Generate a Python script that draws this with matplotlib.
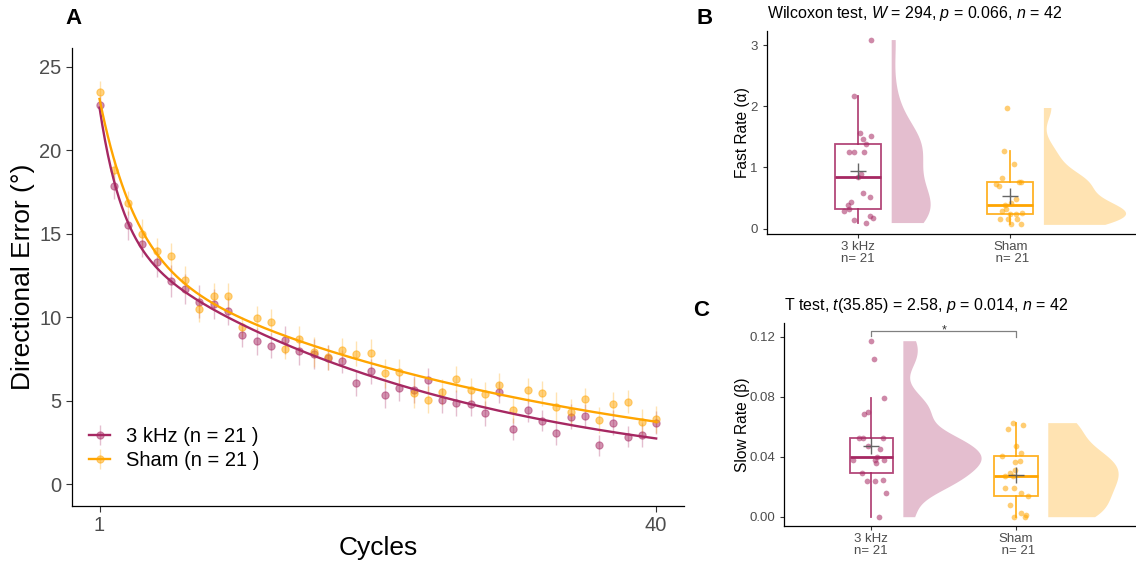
import numpy as np
import matplotlib
matplotlib.use("Agg")
import matplotlib.pyplot as plt
from matplotlib.legend_handler import HandlerTuple

plt.rcParams['font.family'] = ['Liberation Sans', 'DejaVu Sans']
plt.rcParams['mathtext.fontset'] = 'custom'
plt.rcParams['mathtext.rm'] = 'Liberation Sans'
plt.rcParams['mathtext.it'] = 'Liberation Sans:italic'

# ---------------- data ----------------
cycles = np.arange(1, 41)

err_khz = [22.7, 17.86, 15.5, 14.4, 13.3, 12.16, 11.72, 10.94, 10.78, 10.36,
           8.94, 8.56, 8.3, 8.64, 8.0, 7.8, 7.58, 7.36, 6.06, 6.76,
           5.34, 5.76, 5.66, 6.26, 5.02, 4.88, 4.82, 4.26, 5.5, 3.3,
           4.44, 3.82, 3.08, 4.04, 4.1, 2.34, 3.7, 2.86, 2.96, 3.7]
err_sham = [23.5, 18.8, 16.84, 15.0, 13.94, 13.64, 12.22, 10.5, 11.28, 11.28,
            9.4, 9.94, 9.74, 8.1, 8.68, 7.9, 7.6, 8.02, 7.82, 7.84,
            6.64, 6.74, 5.46, 5.06, 5.5, 6.3, 5.64, 5.38, 5.94, 4.44,
            5.62, 5.44, 4.6, 4.3, 5.08, 3.84, 4.82, 4.94, 3.74, 3.9]
se_khz = [0.55, 0.8, 0.87, 0.78, 0.9, 0.95, 0.9, 1.0, 0.9, 0.85,
          0.7, 0.8, 0.73, 0.85, 0.85, 0.9, 0.75, 0.7, 0.75, 0.77,
          0.78, 0.78, 0.8, 0.72, 0.74, 0.77, 0.74, 0.75, 0.62, 0.65,
          0.7, 0.6, 0.73, 0.75, 0.7, 0.62, 0.75, 0.62, 0.7, 0.7]
se_sham = [0.62, 0.65, 0.72, 0.9, 0.82, 0.83, 0.83, 0.8, 0.78, 0.78,
           0.6, 0.72, 0.75, 0.62, 0.77, 0.9, 0.75, 0.72, 0.75, 0.85,
           0.87, 0.75, 0.9, 0.8, 0.78, 0.77, 0.7, 0.75, 0.72, 0.75,
           0.76, 0.73, 0.9, 0.82, 0.68, 0.79, 0.72, 0.7, 0.75, 0.8]

groups = ["3 kHz", "Sham"]
n_per_group = [21, 21]

fast_khz = [3.09, 2.16, 1.57, 1.51, 1.46, 1.38, 1.26, 1.26, 1.26, 0.89, 0.85,
            0.59, 0.51, 0.43, 0.38, 0.32, 0.29, 0.21, 0.17, 0.14, 0.10]
fast_sham = [1.98, 1.27, 1.06, 0.82, 0.77, 0.76, 0.73, 0.69, 0.48, 0.42, 0.385,
             0.32, 0.29, 0.26, 0.235, 0.235, 0.16, 0.16, 0.15, 0.07, 0.07]
slow_khz = [0.1173, 0.1049, 0.0793, 0.0698, 0.0685, 0.0525, 0.0525, 0.0525, 0.047,
            0.045, 0.0396, 0.0376, 0.0376, 0.0376, 0.036, 0.0289, 0.0236, 0.0236,
            0.0243, 0.0156, 0.0]
slow_sham = [0.0627, 0.0613, 0.0582, 0.0473, 0.0422, 0.0404, 0.0371, 0.0367, 0.0311,
             0.0293, 0.0271, 0.0271, 0.0193, 0.019, 0.0156, 0.0138, 0.008, 0.0027,
             0.0011, 0.0, 0.0]

# horizontal jitter of the individual points (category units)
fast_khz_jit = [0.088, -0.026, 0.011, 0.086, 0.033, 0.055, -0.059, -0.026, 0.042, 0.022,
                -0.002, 0.035, 0.079, -0.048, -0.066, -0.061, -0.090, 0.079, 0.097,
                -0.028, 0.053]
fast_sham_jit = [-0.018, -0.044, 0.022, -0.053, 0.055, 0.070, -0.094, -0.072, 0.035,
                 0.004, -0.033, -0.026, -0.055, 0.077, 0.0, 0.039, -0.015, 0.044,
                 -0.070, 0.007, 0.070]
slow_khz_jit = [0.0, 0.016, 0.087, -0.025, -0.048, -0.087, -0.060, 0.078, -0.023, 0.057,
                0.041, -0.124, 0.023, 0.090, 0.034, -0.067, -0.028, 0.028, 0.080, 0.099,
                0.053]
slow_sham_jit = [-0.023, 0.046, -0.053, 0.0, 0.030, -0.097, 0.023, -0.009, -0.009,
                 -0.046, -0.023, -0.076, -0.074, -0.018, 0.034, 0.080, -0.046, 0.034,
                 0.069, -0.018, 0.064]

title_b = r"Wilcoxon test, $W$ = 294, $p$ = 0.066, $n$ = 42"
title_c = r"T test, $t$(35.85) = 2.58, $p$ = 0.014, $n$ = 42"

# ---------------- style ----------------
C_KHZ = "#A62862"
C_SHAM = "#FFA500"
TICK_TXT = "#4D4D4D"
TICK_LINE = "#333333"


def fit_double_exp(t, y):
    """Least-squares fit of y = A*exp(-a t) + B*exp(-b t)."""
    t = np.asarray(t, float)
    y = np.asarray(y, float)
    best = (np.inf, None)
    for a in np.linspace(0.05, 2.0, 196):
        for b in np.linspace(0.002, 0.12, 119):
            if b >= a:
                continue
            X = np.column_stack([np.exp(-a * t), np.exp(-b * t)])
            coef = np.linalg.lstsq(X, y, rcond=None)[0]
            sse = float(((X @ coef - y) ** 2).sum())
            if sse < best[0]:
                best = (sse, (coef[0], a, coef[1], b))
    return best[1]


def kde_nrd0(vals, grid):
    v = np.asarray(vals, float)
    n = len(v)
    sd = v.std(ddof=1)
    q75, q25 = np.percentile(v, [75, 25])
    bw = 0.9 * min(sd, (q75 - q25) / 1.34) * n ** -0.2
    z = (grid[:, None] - v[None, :]) / bw
    return np.exp(-0.5 * z ** 2).sum(1) / (n * bw * np.sqrt(2 * np.pi))


def style_axes(ax, labelsize, ticklen):
    for s in ("top", "right"):
        ax.spines[s].set_visible(False)
    for s in ("left", "bottom"):
        ax.spines[s].set_linewidth(0.9)
        ax.spines[s].set_color("black")
    ax.tick_params(labelsize=labelsize, colors=TICK_LINE, labelcolor=TICK_TXT,
                   length=ticklen, width=0.8)


fig = plt.figure(figsize=(11.36, 5.67), dpi=100)
W, H = 1136.0, 567.0


def px_axes(left, top, right, bottom):
    return fig.add_axes([left / W, 1 - bottom / H, (right - left) / W, (bottom - top) / H])


# ---------------- panel A ----------------
axA = px_axes(71.7, 47.7, 684, 505.7)
style_axes(axA, 14.5, 4)
tt = np.linspace(1, 40, 400)
handles = []
for vals, se, col, name, n in ((err_khz, se_khz, C_KHZ, groups[0], n_per_group[0]),
                               (err_sham, se_sham, C_SHAM, groups[1], n_per_group[1])):
    A, a, B, b = fit_double_exp(cycles - 1, vals)
    eb = axA.errorbar(cycles, vals, yerr=se, fmt='o', ms=5.2, color=col, alpha=0.5,
                      mec=col, mew=0.8, ecolor=col, elinewidth=1.0, capsize=0, zorder=2)
    for bar in eb[2]:
        bar.set_alpha(0.3)
    ln, = axA.plot(tt, A * np.exp(-a * (tt - 1)) + B * np.exp(-b * (tt - 1)),
                   color=col, lw=1.7, zorder=3)
    handles.append(((ln, eb), f"{name} (n = {n} )"))

axA.set_xlim(-0.95, 41.95)
axA.set_ylim(-1.28, 26.14)
axA.set_xticks([1, 40])
axA.set_yticks([0, 5, 10, 15, 20, 25])
leg = axA.legend([h for h, _ in handles], [l for _, l in handles],
                 handler_map={tuple: HandlerTuple(ndivide=1)},
                 loc="center left", bbox_to_anchor=((89.3 - 71.7) / 612.3, 0.124),
                 frameon=False, fontsize=14.5, handlelength=1.05, handletextpad=0.75,
                 labelspacing=0.25, borderpad=0, borderaxespad=0)
for t in leg.get_texts():
    t.set_color("black")
fig.text(23 / W, 1 - 276.7 / H, "Directional Error (°)", rotation=90,
         ha="center", va="center", fontsize=19)
fig.text(378 / W, 1 - 548 / H, "Cycles", ha="center", va="center", fontsize=19)


# ---------------- panels B and C ----------------
def raincloud(ax, data, jits, ylim, yticks, yfmt, title):
    positions = [1, 2]
    cols = [C_KHZ, C_SHAM]
    # half violins, width proportional to density (shared scale)
    grids, dens = [], []
    for v in data:
        g = np.linspace(min(v), max(v), 512)
        grids.append(g)
        dens.append(kde_nrd0(v, g))
    dmax = max(d.max() for d in dens)
    for p, g, d, col in zip(positions, grids, dens, cols):
        start = p + 0.218
        ax.fill_betweenx(g, start, start + d / dmax * 0.54, color=col, alpha=0.3, lw=0,
                         zorder=1)
    # boxes
    for p, v, col in zip(positions, data, cols):
        bp = ax.boxplot([v], positions=[p], widths=0.3, whis=1.5, showfliers=False,
                        showcaps=False, patch_artist=True, manage_ticks=False, zorder=2)
        for box in bp["boxes"]:
            box.set_facecolor("none")
            box.set_edgecolor(col)
            box.set_linewidth(1.3)
            box.set_alpha(0.85)
        for w in bp["whiskers"]:
            w.set_color(col)
            w.set_linewidth(1.3)
            w.set_alpha(0.85)
        for m in bp["medians"]:
            m.set_color(col)
            m.set_linewidth(2.0)
    # individual points
    for p, v, j, col in zip(positions, data, jits, cols):
        ax.scatter(np.asarray(j) + p, v, s=17, color=col, alpha=0.55, lw=0, zorder=3)
    # group means
    for p, v in zip(positions, data):
        ax.plot([p], [np.mean(v)], marker="+", ms=11, mew=1.0, color="#555555",
                alpha=0.9, zorder=4)
    style_axes(ax, 9.5, 3)
    ax.set_xlim(0.4, 2.82)
    ax.set_ylim(*ylim)
    ax.set_yticks(yticks)
    ax.set_yticklabels([yfmt.format(y) for y in yticks])
    ax.set_xticks(positions)
    ax.set_xticklabels([f"{groups[0]}\nn= {n_per_group[0]}",
                        f"{groups[1]}\n n= {n_per_group[1]}"], linespacing=1.0)
    ax.tick_params(axis="x", pad=2)
    ax.set_title(title, loc="left", fontsize=11.5, pad=9.5)


axB = px_axes(766.7, 30.7, 1135, 234)
raincloud(axB, [fast_khz, fast_sham], [fast_khz_jit, fast_sham_jit],
          (-0.087, 3.235), [0, 1, 2, 3], "{:g}", title_b)
fig.text(743 / W, 1 - 132.4 / H, "Fast Rate (α)", rotation=90, ha="center",
         va="center", fontsize=11.2)

axC = px_axes(784.3, 322.7, 1135, 526)
raincloud(axC, [slow_khz, slow_sham], [slow_khz_jit, slow_sham_jit],
          (-0.0062, 0.1293), [0.0, 0.04, 0.08, 0.12], "{:.2f}", title_c)
fig.text(742.7 / W, 1 - 424.4 / H, "Slow Rate (β)", rotation=90, ha="center",
         va="center", fontsize=11.2)

# significance bracket
yb = 0.1238
axC.plot([1, 1, 2, 2], [0.1205, yb, yb, 0.1198], color="#808080", lw=0.9, zorder=5)
axC.text(1.5, 0.1222, "*", ha="center", va="baseline", fontsize=9, color="#333333")

# panel letters
fig.text(74 / W, 1 - 18 / H, "A", ha="center", va="center", fontsize=16, fontweight="bold")
fig.text(705 / W, 1 - 18 / H, "B", ha="center", va="center", fontsize=16, fontweight="bold")
fig.text(701 / W, 1 - 311 / H, "C", ha="center", va="center", fontsize=16, fontweight="bold")

fig.savefig("out.png", dpi=100)
